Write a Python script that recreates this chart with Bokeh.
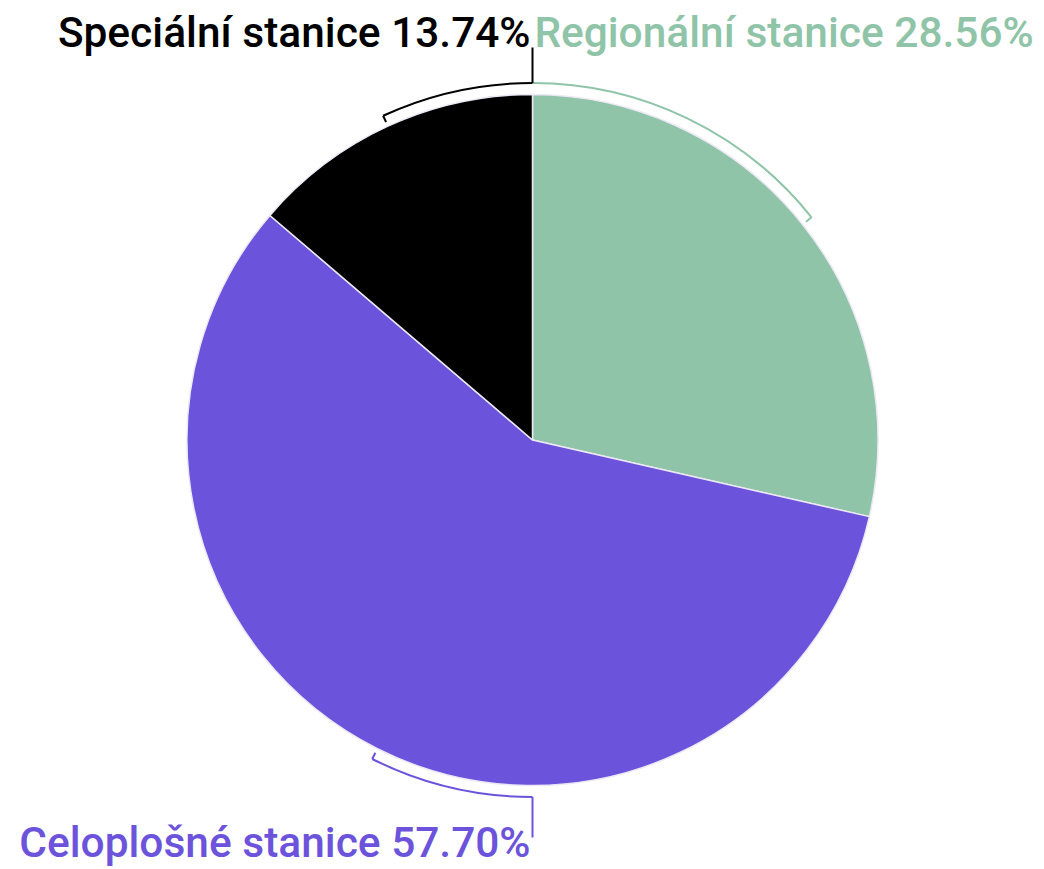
import numpy as np
from bokeh.plotting import figure
from bokeh.models import Range1d
from bokeh.core.properties import value
from bokeh.embed import file_html
from bokeh.resources import INLINE

categories = ["Regionální stanice", "Celoplošné stanice", "Speciální stanice"]
shares = [28.56, 57.70, 13.74]
colors = ["#90c4a8", "#6c53db", "#000000"]
label_texts = ["Regionální stanice 28.56%", "Celoplošné stanice 57.70%", "Speciální stanice 13.74%"]

W, H = 1044, 869
p = figure(width=W, height=H, x_range=Range1d(0, W), y_range=Range1d(0, H),
           output_backend="svg", toolbar_location=None, min_border=0)
p.axis.visible = False
p.grid.visible = False
p.outline_line_color = None
p.background_fill_color = "white"

cx, cy = 532.0, 429.5
R = 345.5
RA = 357.0
TICK = 7.0

vals = np.array(shares)
frac = vals / vals.sum()
ends = np.cumsum(frac) * 360.0
starts = np.concatenate([[0.0], ends[:-1]])
mids = (starts + ends) / 2.0

def to_rad(theta_clock_from_top):
    return np.deg2rad(90.0 - theta_clock_from_top)

# wedges
p.wedge(x=[cx]*3, y=[cy]*3, radius=R,
        start_angle=[to_rad(e) for e in ends], end_angle=[to_rad(s) for s in starts],
        direction="anticlock", fill_color=colors, line_color="#ece8f6", line_width=1.5)

# leader arcs: from slice middle to nearest of top (0/360) or bottom (180)
anchors = [0.0, 180.0, 360.0]
for i in range(3):
    m = mids[i]
    a = anchors[i]
    lo, hi = min(m, a), max(m, a)
    p.arc(x=cx, y=cy, radius=RA, start_angle=to_rad(hi), end_angle=to_rad(lo),
          direction="anticlock", line_color=colors[i], line_width=2)
    t = to_rad(m)
    p.line(x=[cx + RA*np.cos(t), cx + (RA-TICK)*np.cos(t)],
           y=[cy + RA*np.sin(t), cy + (RA-TICK)*np.sin(t)],
           line_color=colors[i], line_width=2)

# vertical connectors
p.line(x=[cx, cx], y=[cy + RA, 822], line_color=colors[2], line_width=2)
p.line(x=[cx, cx], y=[cy - RA, 32], line_color=colors[1], line_width=2)

font = value("Roboto Medium")
fs = "42.4px"
p.text(x=[cx - 2], y=[837], text=[label_texts[2]], text_align="right", text_baseline="alphabetic",
       text_font=font, text_font_size=fs, text_color=colors[2])
p.text(x=[cx + 2], y=[837], text=[label_texts[0]], text_align="left", text_baseline="alphabetic",
       text_font=font, text_font_size=fs, text_color=colors[0])
p.text(x=[cx - 2], y=[27], text=[label_texts[1]], text_align="right", text_baseline="alphabetic",
       text_font=font, text_font_size=fs, text_color=colors[1])

open("out.html", "w").write(file_html(p, INLINE))
